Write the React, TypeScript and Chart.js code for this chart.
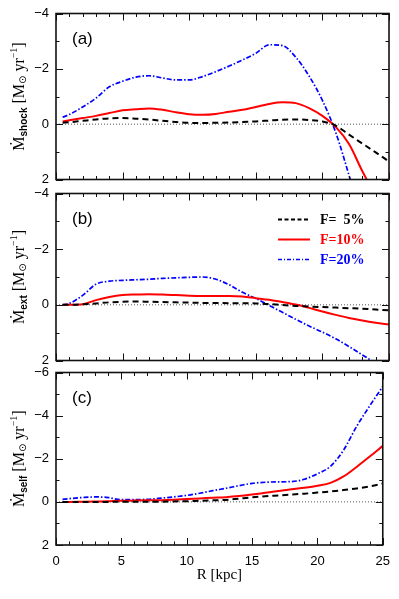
import React, { useEffect, useRef } from "react";
import { Chart, registerables } from "chart.js";
Chart.register(...registerables);

// Radius grid [kpc]
const R = [0.5, 1, 2, 3, 4, 5, 6, 7, 8, 9, 10, 11, 12, 13, 14, 15, 16, 17, 18, 19, 20, 21, 22, 23, 24, 25];
const SERIES_LABELS = ["F=  5%", "F=10%", "F=20%"];
const X_TITLE = "R [kpc]";

// Panel (a): Mdot_shock
const shockF5 = [-0.05, -0.07, -0.12, -0.17, -0.21, -0.22, -0.2, -0.17, -0.12, -0.08, -0.05, -0.04, -0.05, -0.06, -0.08, -0.1, -0.13, -0.16, -0.17, -0.15, -0.1, 0.05, 0.38, 0.7, 1.02, 1.35];
const shockF10 = [-0.1, -0.14, -0.22, -0.3, -0.4, -0.5, -0.54, -0.57, -0.52, -0.43, -0.36, -0.34, -0.37, -0.45, -0.52, -0.62, -0.73, -0.79, -0.76, -0.58, -0.3, 0.1, 0.72, 1.7, 2.6, null];
const shockF20 = [-0.25, -0.35, -0.62, -0.94, -1.35, -1.55, -1.7, -1.75, -1.67, -1.6, -1.6, -1.72, -1.9, -2.1, -2.32, -2.56, -2.87, -2.84, -2.42, -1.74, -0.86, 0.3, 1.85, 3.5, null, null];

// Panel (b): Mdot_ext
const extF5 = [0, 0, -0.02, -0.05, -0.09, -0.11, -0.12, -0.11, -0.1, -0.09, -0.08, -0.07, -0.07, -0.06, -0.06, -0.05, -0.03, 0.01, 0.04, 0.06, 0.08, 0.1, 0.12, 0.14, 0.17, 0.2];
const extF10 = [0, 0, -0.02, -0.17, -0.28, -0.35, -0.37, -0.38, -0.37, -0.35, -0.33, -0.32, -0.32, -0.32, -0.3, -0.24, -0.18, -0.1, -0.01, 0.11, 0.24, 0.36, 0.47, 0.56, 0.64, 0.71];
const extF20 = [0, -0.05, -0.34, -0.74, -0.85, -0.88, -0.9, -0.92, -0.95, -0.97, -0.99, -1.0, -0.92, -0.72, -0.45, -0.23, 0.02, 0.27, 0.52, 0.76, 0.98, 1.22, 1.5, 1.8, 2.1, null];

// Panel (c): Mdot_self
const selfF5 = [0, 0, 0, 0, 0, -0.01, -0.01, -0.01, -0.01, -0.02, -0.03, -0.05, -0.07, -0.09, -0.15, -0.21, -0.26, -0.3, -0.34, -0.38, -0.43, -0.48, -0.55, -0.62, -0.72, -0.85];
const selfF10 = [0, 0, -0.01, -0.02, -0.03, -0.05, -0.06, -0.07, -0.08, -0.1, -0.13, -0.16, -0.19, -0.22, -0.27, -0.34, -0.42, -0.5, -0.59, -0.66, -0.75, -0.88, -1.18, -1.62, -2.1, -2.6];
const selfF20 = [-0.12, -0.15, -0.2, -0.23, -0.2, -0.1, -0.1, -0.12, -0.17, -0.23, -0.3, -0.4, -0.52, -0.63, -0.75, -0.86, -0.91, -0.93, -0.94, -1.05, -1.3, -1.65, -2.4, -3.5, -4.45, -5.35];

const COLORS = ["#000000", "#ff0000", "#0000ff"];
const DASHES = [[6, 4], [], [5, 2, 1.5, 2]];
const WIDTHS = [2, 2, 1.7];
const LEGEND_DASHES = [[4, 2.5], [], [4, 2, 1, 2]];

const SANS = '"Liberation Sans", Arial, sans-serif';
const SERIF = '"Liberation Serif", "DejaVu Serif", serif';

function drawYTitle(ctx: CanvasRenderingContext2D, cx: number, cy: number, sub: string) {
  ctx.save();
  ctx.translate(cx, cy);
  ctx.rotate(-Math.PI / 2);
  ctx.fillStyle = "#000";
  ctx.textBaseline = "alphabetic";
  ctx.textAlign = "left";
  const segs = [
    { t: "\u1E40", f: `16px ${SERIF}`, dy: 0 },
    { t: sub, f: `bold 10px ${SANS}`, dy: 3 },
    { t: " [M", f: `16px ${SERIF}`, dy: 0 },
    { t: "\u2299", f: `10px "DejaVu Sans", sans-serif`, dy: 2 },
    { t: " yr", f: `16px ${SERIF}`, dy: 0 },
    { t: "\u22121", f: `10px ${SERIF}`, dy: -7 },
    { t: "]", f: `16px ${SERIF}`, dy: 0 },
  ];
  let total = 0;
  const widths = segs.map((s) => {
    ctx.font = s.f;
    const w = ctx.measureText(s.t).width;
    total += w;
    return w;
  });
  let x = -total / 2;
  segs.forEach((s, i) => {
    ctx.font = s.f;
    ctx.fillText(s.t, x, s.dy);
    x += widths[i];
  });
  ctx.restore();
}

const framePlugin = {
  id: "frame",
  beforeDatasetsDraw(chart: any) {
    const { ctx, chartArea } = chart;
    const ys = chart.scales.y;
    const y0 = ys.getPixelForValue(0);
    ctx.save();
    ctx.strokeStyle = "#555";
    ctx.lineWidth = 1;
    ctx.setLineDash([1, 2]);
    ctx.beginPath();
    ctx.moveTo(chartArea.left, y0);
    ctx.lineTo(chartArea.right, y0);
    ctx.stroke();
    ctx.restore();
  },
  afterDraw(chart: any, _args: any, opts: any) {
    const { ctx, chartArea } = chart;
    const { left, right, top, bottom } = chartArea;
    const xs = chart.scales.x;
    const ys = chart.scales.y;
    ctx.save();
    ctx.setLineDash([]);
    ctx.strokeStyle = "#111";
    ctx.lineWidth = 1;
    ctx.beginPath();
    for (let v = xs.min; v <= xs.max; v++) {
      const len = v % 5 === 0 ? 7 : 3.5;
      const x = Math.round(xs.getPixelForValue(v)) + 0.5;
      ctx.moveTo(x, bottom);
      ctx.lineTo(x, bottom - len);
      ctx.moveTo(x, top);
      ctx.lineTo(x, top + len);
    }
    const lo = Math.min(ys.min, ys.max);
    const hi = Math.max(ys.min, ys.max);
    for (let v = lo; v <= hi; v++) {
      const len = v % 2 === 0 ? 7 : 3.5;
      const y = Math.round(ys.getPixelForValue(v)) + 0.5;
      ctx.moveTo(left, y);
      ctx.lineTo(left + len, y);
      ctx.moveTo(right, y);
      ctx.lineTo(right - len, y);
    }
    ctx.stroke();
    ctx.lineWidth = 1.6;
    ctx.strokeRect(left, top, right - left, bottom - top);

    // panel tag
    ctx.fillStyle = "#000";
    ctx.font = `17px ${SANS}`;
    ctx.textAlign = "left";
    ctx.textBaseline = "middle";
    ctx.fillText(opts.tag, left + 16, top + 26);

    // y title
    drawYTitle(ctx, 24, (top + bottom) / 2, opts.sub);

    // legend
    if (opts.legend) {
      const rows = [top + 26, top + 46, top + 66];
      chart.data.datasets.forEach((ds: any, i: number) => {
        const y = rows[i];
        ctx.strokeStyle = COLORS[i];
        ctx.lineWidth = WIDTHS[i];
        ctx.setLineDash(LEGEND_DASHES[i]);
        ctx.beginPath();
        ctx.moveTo(278, y);
        ctx.lineTo(310, y);
        ctx.stroke();
        ctx.setLineDash([]);
        ctx.fillStyle = COLORS[i];
        ctx.font = `bold 14px ${SERIF}`;
        ctx.textAlign = "left";
        ctx.textBaseline = "middle";
        ctx.fillText(ds.label, 320, y + 1);
      });
    }
    ctx.restore();
  },
};

type PanelProps = {
  top: number;
  height: number;
  padTop: number;
  padBottom: number;
  xAxisH: number;
  yMin: number;
  yMax: number;
  series: (number | null)[][];
  tag: string;
  sub: string;
  legend: boolean;
  xLabels: boolean;
};

function Panel(p: PanelProps) {
  const ref = useRef<HTMLCanvasElement>(null);
  useEffect(() => {
    if (!ref.current) return;
    const chart = new Chart(ref.current, {
      type: "line",
      data: {
        labels: R,
        datasets: p.series.map((s, i) => ({
          label: SERIES_LABELS[i],
          data: R.map((r, j) => ({ x: r, y: s[j] })),
          borderColor: COLORS[i],
          borderWidth: WIDTHS[i],
          borderDash: DASHES[i],
          pointRadius: 0,
          fill: false,
          cubicInterpolationMode: "monotone",
          spanGaps: false,
        })),
      } as any,
      plugins: [framePlugin],
      options: {
        animation: false,
        responsive: false,
        maintainAspectRatio: false,
        layout: { padding: { top: p.padTop, bottom: p.padBottom, left: 0, right: 10 } },
        plugins: {
          legend: { display: false },
          tooltip: { enabled: false },
          frame: { tag: p.tag, sub: p.sub, legend: p.legend },
        } as any,
        scales: {
          x: {
            type: "linear",
            min: 0,
            max: 25,
            grid: { display: false, drawTicks: false },
            border: { display: false },
            ticks: {
              display: p.xLabels,
              stepSize: 5,
              padding: 9,
              color: "#000",
              font: { family: SANS, size: 13 },
              maxRotation: 0,
            },
            title: {
              display: p.xLabels,
              text: X_TITLE,
              color: "#000",
              font: { family: SERIF, size: 15 },
              padding: { top: 0, bottom: 1 },
            },
            afterFit: (s: any) => {
              s.height = p.xAxisH;
            },
          },
          y: {
            type: "linear",
            min: p.yMin,
            max: p.yMax,
            reverse: true,
            grid: { display: false, drawTicks: false },
            border: { display: false },
            ticks: {
              stepSize: 2,
              padding: 7,
              color: "#000",
              font: { family: SANS, size: 13, lineHeight: 1 },
              callback: (v: any) => (v < 0 ? "\u2212" + Math.abs(v) : String(v)),
            },
            afterFit: (s: any) => {
              s.width = 56;
            },
          },
        } as any,
      },
    });
    return () => chart.destroy();
  }, []);
  return (
    <canvas
      ref={ref}
      width={399}
      height={p.height}
      style={{ position: "absolute", left: 0, top: p.top, width: 399, height: p.height }}
    />
  );
}

export default function App() {
  return (
    <div style={{ position: "fixed", left: 0, top: 0, width: 399, height: 599, background: "#fff" }}>
      <Panel top={0} height={193} padTop={7} padBottom={10} xAxisH={0} yMin={-4} yMax={2}
        series={[shockF5, shockF10, shockF20]} tag="(a)" sub="shock" legend={false} xLabels={false} />
      <Panel top={180} height={194} padTop={8} padBottom={10} xAxisH={0} yMin={-4} yMax={2}
        series={[extF5, extF10, extF20]} tag="(b)" sub="ext" legend={true} xLabels={false} />
      <Panel top={359} height={226} padTop={10} padBottom={0} xAxisH={40} yMin={-6} yMax={2}
        series={[selfF5, selfF10, selfF20]} tag="(c)" sub="self" legend={false} xLabels={true} />
    </div>
  );
}
